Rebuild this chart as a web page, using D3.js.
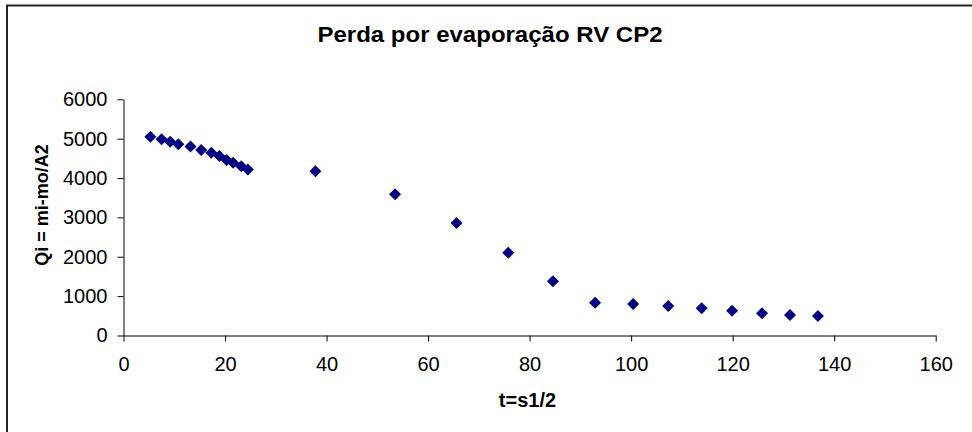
<!DOCTYPE html>
<html><head><meta charset="utf-8">
<script src="https://cdn.jsdelivr.net/npm/d3@7"></script>
<style>
html,body{margin:0;padding:0;background:#fff;}
svg{display:block;font-family:"Liberation Sans",Arial,sans-serif;}
</style></head>
<body>
<svg id="c" width="972" height="432"></svg>
<script>
const tValues = [5.3,7.5,9.2,10.8,13.2,15.3,17.3,18.9,20.3,21.6,23.2,24.5,37.8,53.5,65.6,75.8,84.6,92.9,100.4,107.3,113.9,119.9,125.8,131.3,136.8];
const qValues = [5050,4985,4920,4860,4800,4710,4640,4560,4460,4390,4300,4215,4170,3590,2860,2100,1380,833,800,749,691,630,564,521,495];
const xTicks = [0,20,40,60,80,100,120,140,160];
const yTicks = [0,1000,2000,3000,4000,5000,6000];
const title = "Perda por evaporação RV CP2";
const xTitle = "t=s1/2";
const yTitle = "Qi = mi-mo/A2";

const svg = d3.select("#c");
svg.append("rect").attr("x",7).attr("y",5.5).attr("width",975).attr("height",440)
  .attr("fill","#fff").attr("stroke","#222").attr("stroke-width",2);

const x = d3.scaleLinear().domain([0,160]).range([123.5,935.7]);
const y = d3.scaleLinear().domain([0,6000]).range([335.5,99.3]);

const xa = svg.append("g").attr("transform","translate(0,335.5)")
  .call(d3.axisBottom(x).tickValues(xTicks).tickFormat(d3.format("d")).tickSize(6).tickPadding(15).tickSizeOuter(0));
const ya = svg.append("g").attr("transform","translate(123.5,0)")
  .call(d3.axisLeft(y).tickValues(yTicks).tickFormat(d3.format("d")).tickSize(6).tickPadding(10).tickSizeOuter(0));
[xa,ya].forEach(a=>{
  a.selectAll("path,line").attr("stroke","#000").attr("stroke-width",1);
  a.selectAll("text").attr("font-family","'Liberation Sans',Arial,sans-serif")
    .attr("font-size",20).attr("fill","#000");
});

svg.append("g").selectAll("path").data(tValues.map((t,i)=>[t,qValues[i]])).join("path")
  .attr("d", d3.symbol().type(d3.symbolSquare).size(72))
  .attr("transform", d=>`translate(${x(d[0])},${y(d[1])}) rotate(45)`)
  .attr("fill","#000080");

svg.append("text").attr("x",490).attr("y",42).attr("text-anchor","middle")
  .attr("font-size",22).attr("font-weight","bold")
  .attr("textLength",345).attr("lengthAdjust","spacingAndGlyphs").text(title);
svg.append("text").attr("x",527.5).attr("y",407).attr("text-anchor","middle")
  .attr("font-size",20).attr("font-weight","bold").text(xTitle);
svg.append("text").attr("transform","translate(48,205) rotate(-90)").attr("text-anchor","middle")
  .attr("font-size",18).attr("font-weight","bold").text(yTitle);
</script>
</body></html>
